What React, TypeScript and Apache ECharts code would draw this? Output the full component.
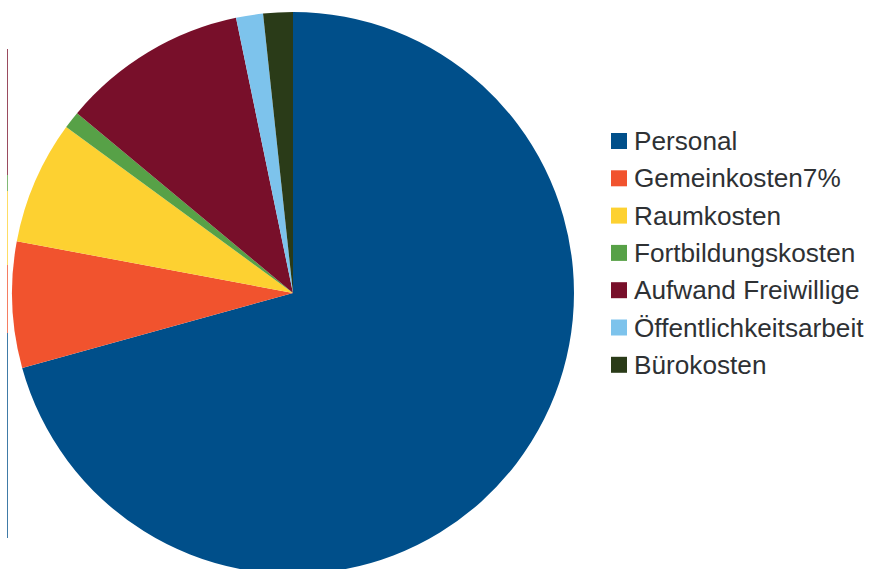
import React, { useEffect, useRef } from "react";
import * as echarts from "echarts";

const categories = [
  "Personal",
  "Gemeinkosten7%",
  "Raumkosten",
  "Fortbildungskosten",
  "Aufwand Freiwillige",
  "Öffentlichkeitsarbeit",
  "Bürokosten",
];
const values = [70.7, 7.25, 7.1, 1.0, 10.7, 1.55, 1.7];
const colors = ["#004f8a", "#f1532e", "#fdd131", "#57a147", "#780f2a", "#7dc3ec", "#2a3b18"];

// thin colored edge strip on the left (segments: color index, from y, to y)
const edgeSegments: [number, number, number][] = [
  [4, 49, 175],
  [3, 175, 191],
  [2, 191, 265],
  [1, 265, 333],
  [0, 333, 538],
];

export default function App() {
  const ref = useRef<HTMLDivElement>(null);
  useEffect(() => {
    if (!ref.current) return;
    const chart = echarts.init(ref.current, undefined, { renderer: "svg" });
    chart.setOption({
      animation: false,
      color: colors,
      legend: {
        orient: "vertical",
        left: 611,
        top: 128,
        padding: 0,
        icon: "rect",
        itemWidth: 16,
        itemHeight: 16,
        itemGap: 11.3,
        selectedMode: false,
        textStyle: {
          fontFamily: "Liberation Sans",
          fontSize: 26.2,
          lineHeight: 26,
          color: "#2e3134",
          padding: [0, 0, 0, 2],
        },
        data: categories,
      },
      graphic: edgeSegments.map(([ci, y1, y2]) => ({
        type: "line",
        shape: { x1: 7.5, y1, x2: 7.5, y2 },
        style: { stroke: colors[ci], lineWidth: 1, opacity: 0.75 },
        silent: true,
      })),
      series: [
        {
          type: "pie",
          center: [293, 293],
          radius: [0, 281],
          startAngle: 90,
          clockwise: true,
          label: { show: false },
          labelLine: { show: false },
          silent: true,
          emphasis: { disabled: true },
          itemStyle: { borderWidth: 0 },
          data: categories.map((name, i) => ({ name, value: values[i] })),
        },
      ],
    });
    return () => chart.dispose();
  }, []);
  return (
    <div
      ref={ref}
      style={{ position: "fixed", left: 0, top: 0, width: 877, height: 569, background: "#fff" }}
    />
  );
}
